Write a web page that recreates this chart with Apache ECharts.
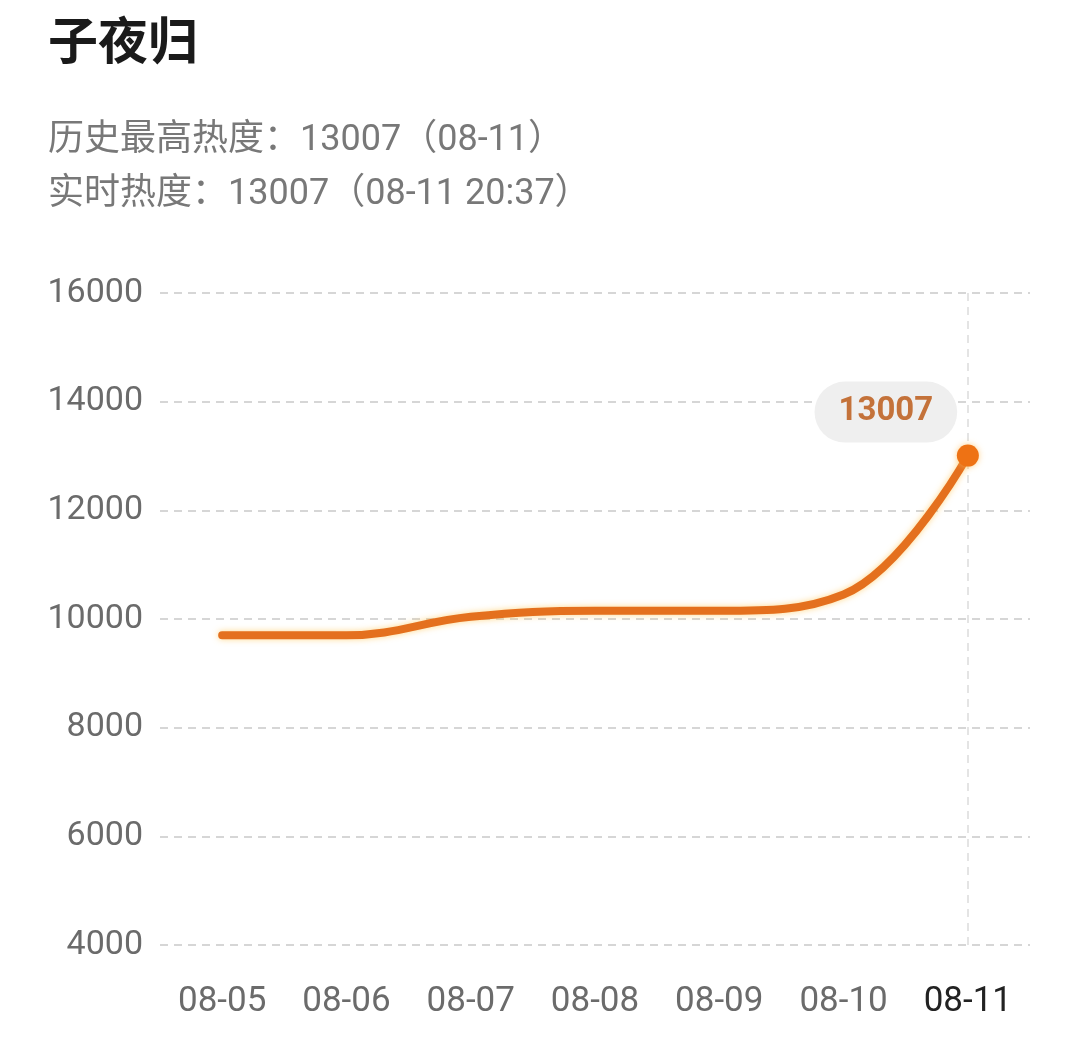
<!DOCTYPE html>
<html>
<head>
<meta charset="utf-8">
<script src="https://cdn.jsdelivr.net/npm/echarts@6/dist/echarts.min.js"></script>
<style>
  html, body { margin: 0; padding: 0; background: #fff; }
  #main { width: 1080px; height: 1049px; }
</style>
</head>
<body>
<div id="main"></div>
<script>
// 数据
var dates = ['08-05', '08-06', '08-07', '08-08', '08-09', '08-10', '08-11'];
var heat = [9700, 9700, 10040, 10150, 10150, 10450, 13007];
var titleText = '子夜归';
var subLines = ['历史最高热度：13007（08-11）', '实时热度：13007（08-11 20:37）'];

var lastIdx = dates.length - 1;
var fontFamily = "Roboto, 'Noto Sans CJK SC', sans-serif";

var myChart = echarts.init(document.getElementById('main'));

var seriesData = heat.map(function (v, i) {
  if (i !== lastIdx) return v;
  return {
    value: v,
    label: {
      show: true,
      position: 'top',
      distance: 2,
      offset: [-82, 0],
      formatter: '{c}',
      color: '#C4723A',
      fontSize: 33,
      fontWeight: 'bold',
      fontFamily: fontFamily,
      backgroundColor: '#efefef',
      borderRadius: 32,
      padding: [14, 24, 14, 24]
    }
  };
});

var option = {
  backgroundColor: '#fff',
  animation: false,
  graphic: [
    {
      type: 'text', left: 48, top: 22,
      style: { text: titleText, fontSize: 50, fontWeight: 'bold', fill: '#1a1a1a', fontFamily: fontFamily }
    },
    {
      type: 'text', left: 48, top: 123,
      style: { text: subLines[0], fontSize: 36, fill: '#787878', fontFamily: fontFamily }
    },
    {
      type: 'text', left: 48, top: 177,
      style: { text: subLines[1], fontSize: 36, fill: '#787878', fontFamily: fontFamily }
    }
  ],
  grid: {
    left: 160,
    right: 50,
    top: 293,
    bottom: 104
  },
  xAxis: {
    type: 'category',
    data: dates,
    boundaryGap: true,
    axisLine: { show: false },
    axisTick: { show: false },
    axisLabel: {
      margin: 40,
      fontSize: 35,
      fontFamily: fontFamily,
      color: function (val, idx) {
        return idx === lastIdx ? '#222' : '#6b6b6b';
      }
    }
  },
  yAxis: {
    type: 'value',
    min: 4000,
    max: 16000,
    interval: 2000,
    axisLine: { show: false },
    axisTick: { show: false },
    axisLabel: {
      margin: 17,
      fontSize: 34,
      fontFamily: fontFamily,
      color: '#6b6b6b',
      formatter: function (v) { return String(v); }
    },
    splitLine: {
      lineStyle: { color: '#d6d6d6', width: 2, type: [8, 6] }
    }
  },
  series: [{
    type: 'line',
    data: seriesData,
    smooth: 0.4,
    symbol: 'circle',
    symbolSize: function (v, params) {
      return params.dataIndex === lastIdx ? 22 : 0;
    },
    itemStyle: {
      color: '#EE7214',
      shadowColor: 'rgba(255,190,90,0.7)',
      shadowBlur: 6
    },
    lineStyle: {
      color: '#E4701E',
      width: 8,
      cap: 'round',
      shadowColor: 'rgba(255,200,90,0.7)',
      shadowBlur: 6
    },
    markLine: {
      silent: true,
      z: 1,
      symbol: 'none',
      label: { show: false },
      lineStyle: { color: '#dcdcdc', width: 1.5, type: [8, 6] },
      data: [{ xAxis: dates[lastIdx] }]
    },
    z: 3
  }]
};

myChart.setOption(option);
</script>
</body>
</html>
